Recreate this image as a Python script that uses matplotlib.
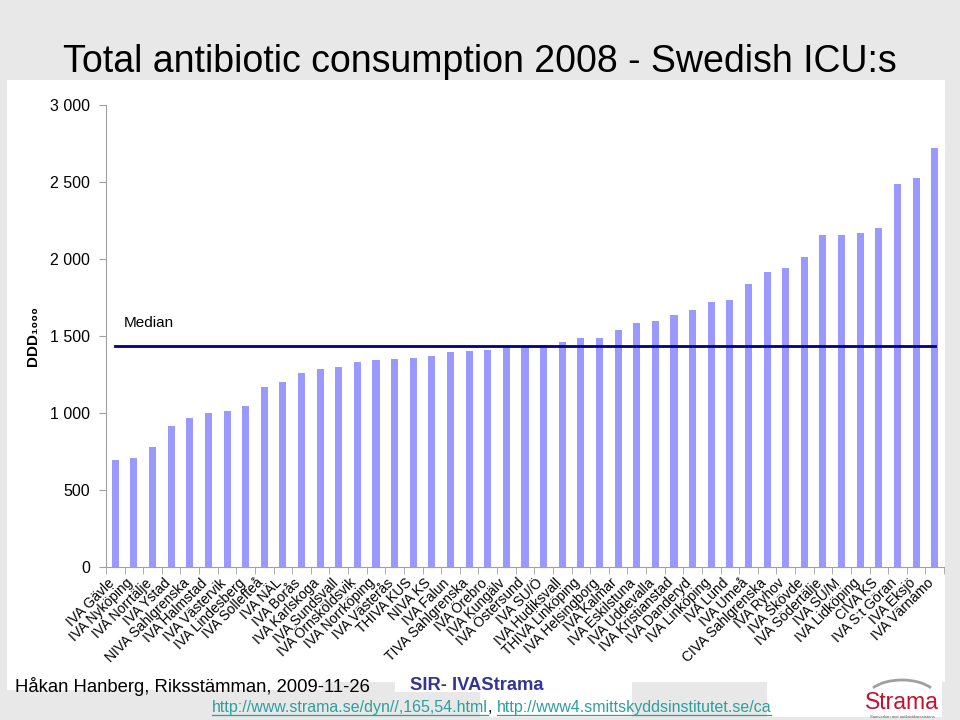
import matplotlib
matplotlib.use("Agg")
import matplotlib.pyplot as plt
from matplotlib.patches import Rectangle, Arc
from matplotlib.ticker import FuncFormatter, FixedLocator
from matplotlib.transforms import ScaledTranslation
import numpy as np

plt.rcParams['font.family'] = ['Liberation Sans', 'DejaVu Sans']

units = ["IVA Gävle", "IVA Nyköping", "IVA Norrtälje", "IVA Ystad", "NIVA Sahlgrenska",
         "IVA Halmstad", "IVA Västervik", "IVA Lindesberg", "IVA Sollefteå", "IVA NÄL",
         "IVA Borås", "IVA Karlskoga", "IVA Sundsvall", "IVA Örnsköldsvik", "IVA Norrköping",
         "IVA Västerås", "THIVA KUS", "NIVA KS", "IVA Falun", "TIVA Sahlgrenska",
         "IVA Örebro", "IVA Kungälv", "IVA Östersund", "IVA SU/Ö", "IVA Hudiksvall",
         "THIVA Linköping", "IVA Helsingborg", "IVA Kalmar", "IVA Eskilstuna", "IVA Uddevalla",
         "IVA Kristianstad", "IVA Danderyd", "IVA Linköping", "IVA Lund", "IVA Umeå",
         "CIVA Sahlgrenska", "IVA Ryhov", "IVA Skövde", "IVA Södertälje", "IVA SU/M",
         "IVA Lidköping", "CIVA KS", "IVA S:t Göran", "IVA Eksjö", "IVA Värnamo"]
ddd = [692, 705, 781, 915, 965, 997, 1012, 1045, 1166, 1199,
       1257, 1283, 1298, 1330, 1343, 1350, 1356, 1369, 1397, 1404,
       1410, 1436, 1438, 1440, 1458, 1484, 1486, 1536, 1584, 1597,
       1635, 1668, 1722, 1735, 1835, 1915, 1941, 2010, 2153, 2159,
       2166, 2200, 2486, 2525, 2724]
yticks = [0, 500, 1000, 1500, 2000, 2500, 3000]

W, H = 960, 720
fig = plt.figure(figsize=(9.6, 7.2), dpi=100, facecolor='#e8e8e8')

def px(x0, y0, x1, y1):
    # pixel box (top-left origin) -> figure fraction rect
    return (x0 / W, 1 - y1 / H), (x1 - x0) / W, (y1 - y0) / H

# white slide areas, behind everything
for box in [(7, 80, 945, 682), (7, 682, 322, 690), (395, 682, 480, 692),
            (480, 682, 632, 717), (767, 682, 942, 717)]:
    xy, w, h = px(*box)
    fig.patches.append(Rectangle(xy, w, h, transform=fig.transFigure,
                                 facecolor='white', edgecolor='none', zorder=-5))

ax = fig.add_axes([106 / W, 1 - 567 / H, 838 / W, 462 / H])
ax.set_zorder(1)
ax.set_facecolor('none')
x = np.arange(len(units))
ax.bar(x, ddd, width=0.38, color='#9999ff', zorder=2)

med = np.median(ddd)
ax.plot([x[0], x[-1]], [med, med], color='#000080', lw=2, zorder=3)
ax.text(0.45, med + 120, "Median", fontsize=11, ha='left', va='baseline')

ax.set_xlim(-0.5, len(units) - 0.5)
ax.set_ylim(0, 3000)
ax.set_yticks(yticks)
ax.yaxis.set_major_formatter(FuncFormatter(lambda v, p: f"{int(v):,}".replace(",", " ")))
ax.tick_params(axis='y', direction='out', length=5, color='#a0a0a0', labelsize=11.5, pad=6.5)

ax.set_xticks(x)
ax.set_xticklabels(units, rotation=45, ha='right', va='top', rotation_mode='anchor', fontsize=10)
ax.tick_params(axis='x', which='major', length=0, pad=5)
shift = ScaledTranslation(-0.08, -0.02, fig.dpi_scale_trans)
for lab in ax.get_xticklabels():
    lab.set_transform(lab.get_transform() + shift)
ax.xaxis.set_minor_locator(FixedLocator(np.arange(-0.5, len(units), 1.0)))
ax.tick_params(axis='x', which='minor', direction='out', length=5, color='#a0a0a0')

for s in ['top', 'right']:
    ax.spines[s].set_visible(False)
for s in ['left', 'bottom']:
    ax.spines[s].set_color('#a0a0a0')

fig.text(0.5, 1 - 72 / H, "Total antibiotic consumption 2008 - Swedish ICU:s",
         ha='center', va='baseline', fontsize=27)
fig.text(33 / W, 1 - 336 / H, "DDD₁₀₀₀", rotation=90, ha='center', va='center',
         fontsize=11, fontweight='bold')

fig.text(15 / W, 1 - 692 / H, "Håkan Hanberg, Riksstämman, 2009-11-26",
         fontsize=13.3, va='baseline')
fig.text(410 / W, 1 - 690 / H, "SIR- IVAStrama", fontsize=13.2, fontweight='bold',
         color='#333399', va='baseline')

# links with underline
link_col = '#2e9e9e'
fig.canvas.draw()
r = fig.canvas.get_renderer()
xpos = 212
for txt, col, ul in [("http://www.strama.se/dyn//,165,54.html", link_col, True),
                     (", ", 'black', False),
                     ("http://www4.smittskyddsinstitutet.se/ca", link_col, True)]:
    t = fig.text(xpos / W, 1 - 712 / H, txt, fontsize=11.5, color=col, va='baseline')
    bb = t.get_window_extent(r)
    if ul:
        fig.lines.append(plt.Line2D([bb.x0 / W, bb.x1 / W], [1 - 715 / H, 1 - 715 / H],
                                    transform=fig.transFigure, color=col, lw=0.9))
    xpos += bb.width

# Strama logo
fig.patches.append(Arc((902 / W, 1 - 698 / H), 70 / W, 36 / H, theta1=25, theta2=155,
                       transform=fig.transFigure, color='#a0a0a0', lw=2))
fig.text(902 / W, 1 - 709 / H, "Strama", ha='center', va='baseline', fontsize=16.5,
         color='#c8102e')
fig.text(902 / W, 1 - 717.5 / H, "Samverkan mot antibiotikaresistens", ha='center',
         va='baseline', fontsize=3, color='#555555')

fig.savefig("out.png", dpi=100, facecolor=fig.get_facecolor())
